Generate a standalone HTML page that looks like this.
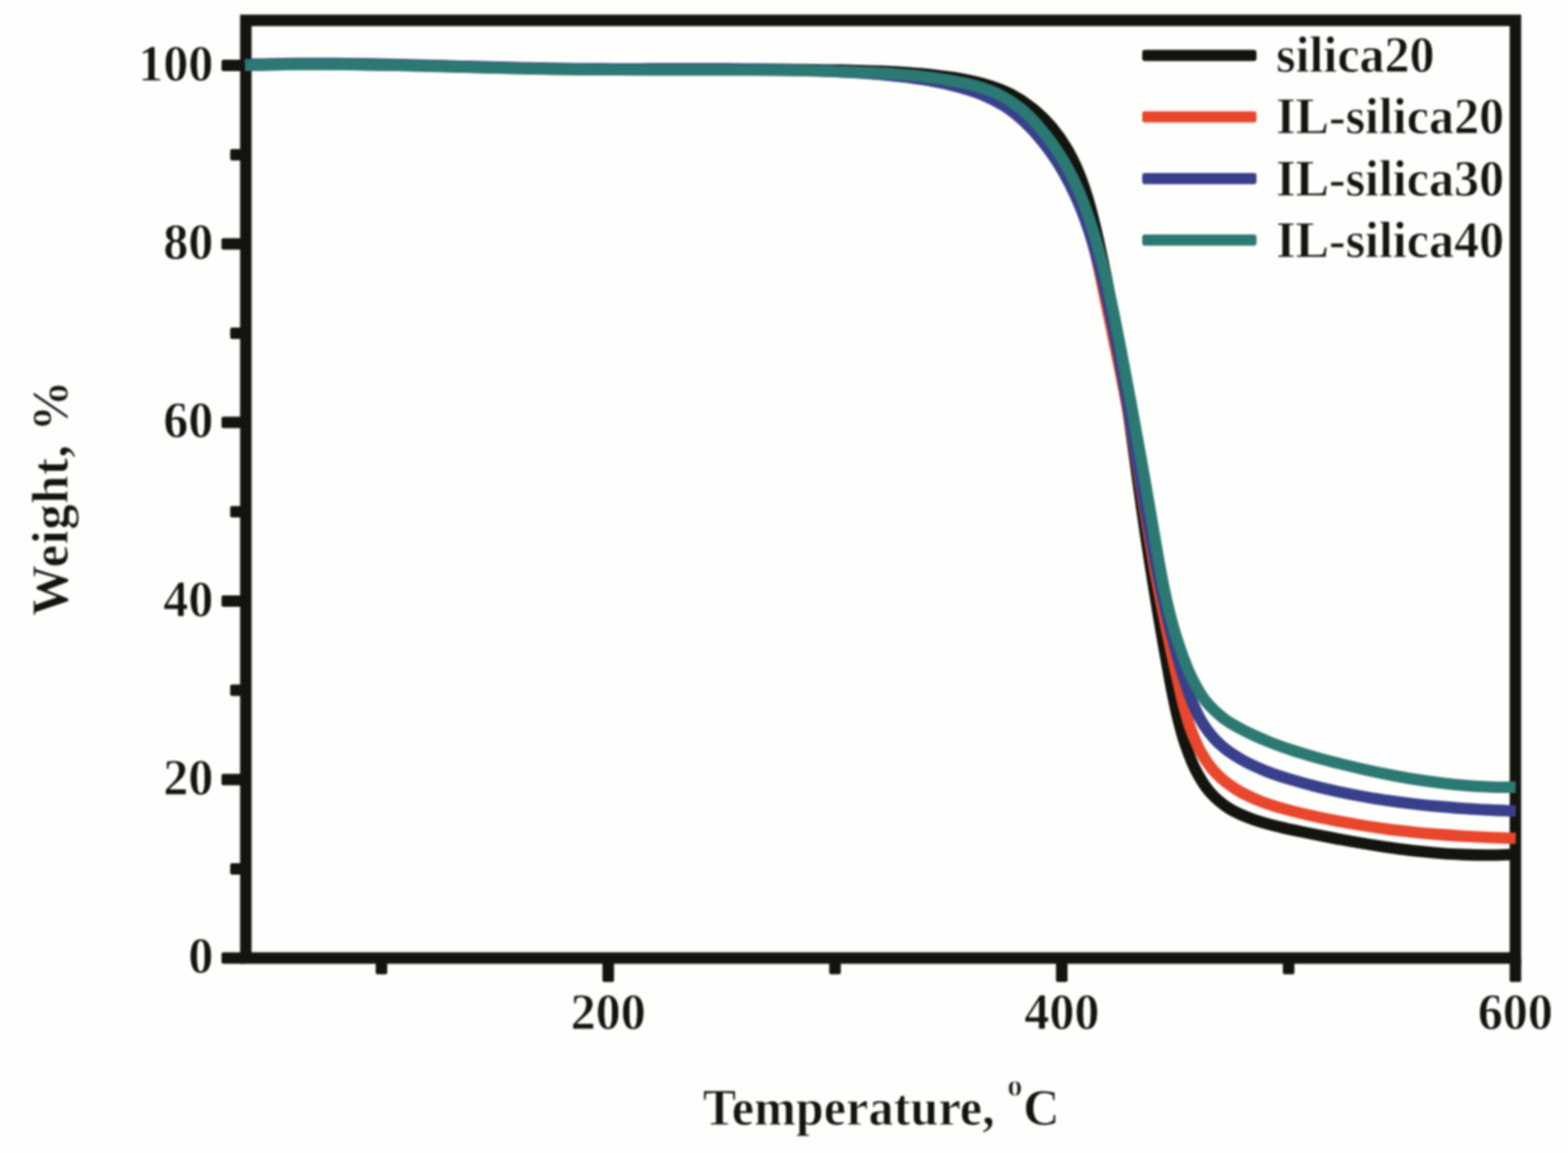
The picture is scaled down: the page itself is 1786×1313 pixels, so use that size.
<!DOCTYPE html>
<html lang="en"><head><meta charset="utf-8"><title>TGA curves</title>
<style>html,body{margin:0;padding:0;background:#fefefc;}body{width:1786px;height:1313px;overflow:hidden;}svg{display:block;filter:blur(1.15px);}text{font-family:"Liberation Serif","DejaVu Serif",serif;font-weight:bold;font-size:56px;fill:#13140e;stroke:#fefefc;stroke-width:0.8px;stroke-linejoin:round;}</style>
</head><body>
<svg width="1786" height="1313" viewBox="0 0 1786 1313">
<rect x="0" y="0" width="1786" height="1313" fill="#fefefc"/>
<g id="all">
<g fill="none" stroke="#13140e" stroke-width="13.1" stroke-linecap="butt">
<rect x="280.0" y="23.2" width="1446.1" height="1067.8" stroke-linejoin="miter"/>
<rect x="252.3" y="1084.5" width="27.7" height="13.0" rx="2" fill="#13140e" stroke="none"/>
<rect x="262.2" y="982.9" width="17.8" height="13.0" rx="2" fill="#13140e" stroke="none"/>
<rect x="252.3" y="881.2" width="27.7" height="13.0" rx="2" fill="#13140e" stroke="none"/>
<rect x="262.2" y="779.5" width="17.8" height="13.0" rx="2" fill="#13140e" stroke="none"/>
<rect x="252.3" y="677.9" width="27.7" height="13.0" rx="2" fill="#13140e" stroke="none"/>
<rect x="262.2" y="576.2" width="17.8" height="13.0" rx="2" fill="#13140e" stroke="none"/>
<rect x="252.3" y="474.6" width="27.7" height="13.0" rx="2" fill="#13140e" stroke="none"/>
<rect x="262.2" y="373.0" width="17.8" height="13.0" rx="2" fill="#13140e" stroke="none"/>
<rect x="252.3" y="271.3" width="27.7" height="13.0" rx="2" fill="#13140e" stroke="none"/>
<rect x="262.2" y="169.7" width="17.8" height="13.0" rx="2" fill="#13140e" stroke="none"/>
<rect x="252.3" y="68.0" width="27.7" height="13.0" rx="2" fill="#13140e" stroke="none"/>
<rect x="427.9" y="1091.0" width="13.2" height="18.5" rx="2" fill="#13140e" stroke="none"/>
<rect x="686.2" y="1091.0" width="13.2" height="27.3" rx="2" fill="#13140e" stroke="none"/>
<rect x="944.5" y="1091.0" width="13.2" height="18.5" rx="2" fill="#13140e" stroke="none"/>
<rect x="1202.8" y="1091.0" width="13.2" height="27.3" rx="2" fill="#13140e" stroke="none"/>
<rect x="1461.2" y="1091.0" width="13.2" height="18.5" rx="2" fill="#13140e" stroke="none"/>
<rect x="1719.5" y="1091.0" width="13.2" height="27.3" rx="2" fill="#13140e" stroke="none"/>
</g>
<g fill="none" stroke-width="13.1" stroke-linecap="butt" stroke-linejoin="round">
<path d="M279.0 74.3C289.1 74.1 299.1 73.8 309.2 73.6C319.3 73.4 329.3 73.3 339.4 73.2C349.5 73.1 359.5 73.1 369.6 73.2C379.7 73.2 389.7 73.3 399.8 73.4C409.8 73.5 419.9 73.6 430.0 73.8C440.0 73.9 450.1 74.1 460.1 74.3C470.2 74.5 480.3 74.8 490.3 75.0C500.4 75.3 510.4 75.5 520.5 75.8C530.6 76.0 540.6 76.3 550.7 76.6C560.7 76.8 570.8 77.1 580.9 77.3C590.9 77.5 601.0 77.8 611.1 78.0C621.1 78.2 631.2 78.3 641.2 78.5C651.3 78.6 661.4 78.8 671.4 78.9C681.5 78.9 691.6 79.0 701.6 79.1C711.7 79.1 721.8 79.1 731.8 79.1C741.9 79.2 752.0 79.2 762.1 79.1C772.1 79.1 782.2 79.1 792.3 79.1C802.3 79.1 812.4 79.1 822.5 79.1C832.5 79.1 842.6 79.1 852.7 79.1C862.7 79.1 872.8 79.1 882.8 79.1C892.9 79.2 903.0 79.2 913.0 79.3C923.1 79.4 933.1 79.5 943.2 79.7C953.3 79.8 963.3 80.0 973.4 80.2C983.4 80.5 993.5 80.7 1003.5 81.1C1013.6 81.5 1023.6 82.0 1033.7 82.7C1043.7 83.4 1053.8 84.2 1063.8 85.4C1073.9 86.6 1084.0 87.8 1094.0 89.7C1104.0 91.5 1114.0 93.5 1123.6 96.5C1133.2 99.4 1142.7 102.8 1151.5 107.4C1160.3 111.9 1168.8 117.4 1176.5 123.7C1184.3 129.9 1191.5 137.2 1198.0 144.8C1204.5 152.5 1210.2 160.8 1215.3 169.4C1220.4 178.0 1224.7 187.1 1228.6 196.3C1232.4 205.5 1235.6 215.1 1238.6 224.7C1241.6 234.3 1244.1 244.2 1246.5 254.0C1249.0 263.9 1251.1 273.8 1253.3 283.7C1255.5 293.6 1257.5 303.5 1259.5 313.4C1261.5 323.3 1263.4 333.2 1265.2 343.1C1267.0 353.0 1268.7 362.9 1270.4 372.8C1272.1 382.7 1273.7 392.6 1275.3 402.6C1276.8 412.5 1278.4 422.4 1279.8 432.3C1281.3 442.3 1282.8 452.2 1284.2 462.1C1285.6 472.1 1287.0 482.0 1288.4 492.0C1289.8 501.9 1291.2 511.9 1292.6 521.8C1293.9 531.8 1295.3 541.7 1296.7 551.7C1298.1 561.6 1299.5 571.6 1300.9 581.6C1302.4 591.5 1303.8 601.5 1305.3 611.5C1306.8 621.4 1308.4 631.4 1309.9 641.4C1311.5 651.3 1313.1 661.3 1314.7 671.3C1316.3 681.2 1318.0 691.2 1319.6 701.1C1321.3 711.0 1323.0 720.9 1324.7 730.8C1326.5 740.7 1328.2 750.6 1330.0 760.4C1331.7 770.3 1333.5 780.1 1335.5 789.9C1337.5 799.7 1339.5 809.6 1342.0 819.3C1344.5 829.2 1347.1 839.1 1350.4 848.7C1353.8 858.4 1357.3 868.2 1362.0 877.1C1366.6 885.9 1371.7 894.6 1378.1 902.0C1384.5 909.2 1392.1 915.7 1400.3 920.9C1408.7 926.2 1418.5 929.9 1427.9 933.4C1437.5 936.8 1447.4 939.3 1457.3 941.7C1467.1 944.2 1477.1 946.1 1487.0 948.1C1496.9 950.1 1506.8 952.1 1516.7 954.0C1526.6 955.9 1536.4 957.7 1546.3 959.4C1556.2 961.1 1566.1 962.7 1576.0 964.2C1585.9 965.6 1595.8 967.0 1605.8 968.2C1615.7 969.3 1625.7 970.4 1635.7 971.2C1645.7 972.0 1655.7 972.7 1665.7 973.1C1675.8 973.5 1685.9 973.7 1696.0 973.7C1706.1 973.7 1716.3 973.2 1726.5 972.9" stroke="#13140e"/>
<path d="M279.0 74.0C288.9 73.8 298.7 73.5 308.6 73.3C318.5 73.1 328.3 73.0 338.2 73.0C348.0 72.9 357.9 72.9 367.8 73.0C377.6 73.0 387.5 73.1 397.4 73.2C407.2 73.3 417.1 73.5 426.9 73.7C436.8 73.9 446.7 74.1 456.5 74.3C466.4 74.5 476.2 74.8 486.1 75.0C496.0 75.3 505.8 75.6 515.7 75.8C525.6 76.1 535.4 76.4 545.3 76.7C555.1 76.9 565.0 77.2 574.9 77.4C584.7 77.7 594.6 77.9 604.4 78.1C614.3 78.3 624.2 78.5 634.0 78.7C643.9 78.8 653.8 79.0 663.6 79.0C673.5 79.1 683.3 79.2 693.2 79.2C703.1 79.3 712.9 79.3 722.8 79.3C732.7 79.3 742.5 79.3 752.4 79.2C762.3 79.2 772.1 79.2 782.0 79.2C791.8 79.2 801.7 79.2 811.6 79.2C821.4 79.2 831.3 79.2 841.2 79.3C851.0 79.4 860.9 79.4 870.8 79.5C880.6 79.7 890.5 79.8 900.3 80.0C910.2 80.2 920.1 80.4 929.9 80.7C939.8 81.0 949.6 81.4 959.5 81.8C969.4 82.2 979.2 82.6 989.1 83.2C998.9 83.8 1008.8 84.5 1018.6 85.4C1028.4 86.4 1038.2 87.5 1048.0 88.9C1057.7 90.3 1067.5 92.0 1077.1 94.1C1086.8 96.2 1096.5 98.5 1105.9 101.6C1115.2 104.7 1124.6 108.1 1133.3 112.5C1141.9 116.9 1150.3 122.1 1158.0 128.0C1165.8 134.0 1172.9 141.0 1179.6 148.2C1186.3 155.4 1192.4 163.3 1198.2 171.4C1203.9 179.4 1209.2 187.9 1214.0 196.5C1218.7 205.1 1223.0 214.0 1226.8 223.0C1230.7 232.0 1234.1 241.3 1237.2 250.6C1240.3 259.9 1242.9 269.4 1245.4 278.9C1247.9 288.4 1250.0 298.1 1252.2 307.7C1254.3 317.4 1256.2 327.1 1258.2 336.7C1260.3 346.4 1262.3 356.1 1264.3 365.7C1266.3 375.3 1268.3 385.0 1270.3 394.6C1272.3 404.2 1274.3 413.8 1276.2 423.5C1278.1 433.1 1280.1 442.8 1281.9 452.5C1283.7 462.1 1285.5 471.8 1287.3 481.6C1289.0 491.3 1290.7 501.0 1292.4 510.8C1294.0 520.6 1295.6 530.3 1297.2 540.1C1298.8 549.9 1300.4 559.7 1302.0 569.5C1303.6 579.2 1305.2 589.0 1306.8 598.7C1308.4 608.5 1310.1 618.2 1311.8 627.9C1313.4 637.6 1315.2 647.3 1316.9 656.9C1318.7 666.6 1320.6 676.1 1322.5 685.7C1324.4 695.3 1326.3 704.9 1328.3 714.4C1330.3 724.0 1332.4 733.6 1334.5 743.2C1336.6 752.9 1338.7 762.7 1341.0 772.4C1343.2 782.2 1345.3 792.2 1347.8 801.9C1350.4 811.6 1353.0 821.4 1356.4 830.7C1359.8 839.8 1363.5 848.9 1368.3 857.3C1373.0 865.5 1378.4 873.5 1384.9 880.3C1391.5 887.3 1399.4 893.4 1407.6 898.6C1416.0 903.9 1425.3 908.2 1434.6 912.0C1443.8 915.7 1453.4 918.6 1463.0 921.3C1472.5 924.1 1482.2 926.2 1491.9 928.4C1501.5 930.6 1511.2 932.6 1520.9 934.5C1530.6 936.3 1540.2 938.0 1549.9 939.6C1559.6 941.2 1569.3 942.6 1579.0 943.9C1588.7 945.2 1598.5 946.3 1608.2 947.4C1618.0 948.4 1627.8 949.3 1637.6 950.1C1647.4 950.9 1657.2 951.6 1667.0 952.2C1676.9 952.8 1686.8 953.3 1696.7 953.7C1706.6 954.1 1716.6 954.4 1726.5 954.7" stroke="#e8472d"/>
<path d="M279.0 73.4C288.7 73.2 298.4 72.8 308.1 72.7C317.7 72.5 327.4 72.4 337.1 72.3C346.8 72.2 356.5 72.2 366.2 72.2C375.9 72.3 385.5 72.4 395.2 72.5C404.9 72.6 414.6 72.7 424.3 72.9C433.9 73.1 443.6 73.3 453.3 73.5C463.0 73.7 472.7 74.0 482.3 74.2C492.0 74.5 501.7 74.8 511.4 75.0C521.1 75.3 530.7 75.6 540.4 75.8C550.1 76.1 559.8 76.4 569.5 76.6C579.1 76.9 588.8 77.1 598.5 77.3C608.2 77.5 617.9 77.7 627.6 77.9C637.2 78.0 646.9 78.2 656.6 78.3C666.3 78.4 676.0 78.4 685.7 78.4C695.4 78.5 705.0 78.5 714.7 78.5C724.4 78.5 734.1 78.4 743.8 78.4C753.5 78.4 763.2 78.4 772.9 78.4C782.5 78.3 792.2 78.3 801.9 78.3C811.6 78.3 821.3 78.4 831.0 78.4C840.7 78.5 850.3 78.6 860.0 78.7C869.7 78.8 879.4 79.0 889.1 79.2C898.7 79.4 908.4 79.6 918.1 80.0C927.8 80.3 937.4 80.7 947.1 81.1C956.8 81.6 966.4 82.1 976.1 82.7C985.8 83.4 995.4 84.0 1005.1 84.9C1014.7 85.8 1024.4 86.8 1034.0 88.1C1043.6 89.4 1053.2 90.8 1062.7 92.6C1072.3 94.4 1081.9 96.4 1091.3 98.9C1100.7 101.5 1110.1 104.2 1119.0 107.9C1127.9 111.6 1136.5 116.0 1144.5 121.1C1152.5 126.3 1160.0 132.5 1167.1 139.0C1174.2 145.6 1180.9 153.0 1187.0 160.5C1193.2 168.0 1198.8 176.0 1204.1 184.1C1209.3 192.2 1214.0 200.6 1218.4 209.2C1222.7 217.7 1226.7 226.5 1230.3 235.4C1234.0 244.2 1237.2 253.3 1240.3 262.5C1243.3 271.6 1246.1 280.9 1248.7 290.3C1251.3 299.6 1253.7 309.0 1256.0 318.5C1258.3 327.9 1260.4 337.4 1262.5 346.9C1264.6 356.4 1266.6 365.9 1268.5 375.4C1270.5 384.9 1272.3 394.4 1274.2 404.0C1276.0 413.5 1277.8 423.0 1279.5 432.5C1281.2 442.1 1282.9 451.6 1284.6 461.2C1286.3 470.7 1287.9 480.2 1289.5 489.8C1291.2 499.3 1292.8 508.8 1294.4 518.4C1296.0 527.9 1297.6 537.5 1299.3 547.0C1300.9 556.5 1302.5 566.0 1304.2 575.6C1305.9 585.1 1307.6 594.6 1309.4 604.1C1311.1 613.6 1312.9 623.1 1314.7 632.6C1316.6 642.1 1318.5 651.6 1320.4 661.0C1322.4 670.5 1324.4 680.0 1326.6 689.4C1328.7 698.8 1330.9 708.3 1333.3 717.7C1335.6 727.1 1338.1 736.5 1340.7 745.8C1343.3 755.2 1346.0 764.6 1349.0 773.9C1352.0 783.1 1354.9 792.5 1358.8 801.4C1362.6 810.3 1366.7 819.1 1372.1 827.0C1377.4 834.9 1383.6 842.4 1390.7 848.7C1397.7 855.1 1406.1 860.4 1414.4 865.2C1422.7 870.1 1431.7 873.9 1440.7 877.6C1449.7 881.3 1459.0 884.3 1468.2 887.1C1477.5 890.0 1486.9 892.5 1496.4 894.9C1505.8 897.4 1515.2 899.5 1524.7 901.6C1534.1 903.6 1543.6 905.4 1553.2 907.1C1562.7 908.8 1572.2 910.4 1581.8 911.7C1591.4 913.1 1601.0 914.4 1610.6 915.5C1620.2 916.6 1629.8 917.6 1639.4 918.4C1649.1 919.3 1658.7 920.0 1668.4 920.7C1678.1 921.4 1687.7 921.9 1697.4 922.4C1707.1 922.9 1716.8 923.2 1726.5 923.6" stroke="#38408c"/>
<path d="M279.0 74.3C288.6 74.1 298.2 73.8 307.7 73.7C317.3 73.5 326.9 73.4 336.5 73.4C346.1 73.3 355.7 73.3 365.2 73.3C374.8 73.4 384.4 73.4 394.0 73.5C403.5 73.6 413.1 73.8 422.7 73.9C432.3 74.1 441.9 74.3 451.4 74.5C461.0 74.7 470.6 74.9 480.2 75.2C489.7 75.4 499.3 75.6 508.9 75.9C518.5 76.1 528.1 76.4 537.6 76.7C547.2 76.9 556.8 77.2 566.4 77.4C575.9 77.6 585.5 77.9 595.1 78.1C604.7 78.3 614.3 78.5 623.8 78.7C633.4 78.9 643.0 79.0 652.6 79.1C662.2 79.2 671.7 79.3 681.3 79.4C690.9 79.5 700.5 79.5 710.1 79.5C719.6 79.6 729.2 79.6 738.8 79.6C748.4 79.6 758.0 79.6 767.6 79.6C777.1 79.6 786.7 79.6 796.3 79.6C805.9 79.6 815.5 79.6 825.1 79.6C834.6 79.6 844.2 79.6 853.8 79.7C863.4 79.8 873.0 79.8 882.5 79.9C892.1 80.0 901.7 80.1 911.3 80.3C920.8 80.5 930.4 80.6 940.0 80.9C949.6 81.1 959.1 81.4 968.7 81.7C978.3 82.0 987.9 82.4 997.4 82.9C1007.0 83.4 1016.6 83.9 1026.1 84.7C1035.7 85.5 1045.2 86.4 1054.8 87.5C1064.3 88.7 1073.9 90.0 1083.4 91.7C1092.9 93.4 1102.5 95.2 1111.7 97.9C1120.8 100.6 1129.9 103.6 1138.3 107.8C1146.7 112.0 1154.7 117.2 1162.1 123.0C1169.5 129.0 1176.3 136.0 1182.6 143.2C1189.0 150.3 1195.0 158.0 1200.5 165.9C1205.9 173.7 1211.0 181.9 1215.6 190.2C1220.2 198.6 1224.3 207.2 1228.1 215.9C1231.9 224.6 1235.3 233.6 1238.5 242.6C1241.7 251.6 1244.5 260.7 1247.3 269.9C1250.0 279.1 1252.5 288.3 1255.0 297.6C1257.4 306.9 1259.6 316.2 1261.7 325.6C1263.9 334.9 1265.9 344.3 1267.9 353.7C1269.8 363.1 1271.7 372.5 1273.5 381.9C1275.4 391.3 1277.2 400.8 1279.0 410.2C1280.8 419.6 1282.5 429.0 1284.3 438.4C1286.1 447.8 1287.8 457.2 1289.6 466.6C1291.3 476.0 1293.0 485.4 1294.7 494.8C1296.4 504.2 1298.1 513.6 1299.8 523.0C1301.5 532.4 1303.2 541.8 1304.8 551.2C1306.5 560.7 1308.1 570.1 1309.7 579.6C1311.4 589.0 1313.0 598.5 1314.6 608.0C1316.2 617.5 1317.8 627.0 1319.5 636.4C1321.2 645.9 1322.9 655.4 1324.8 664.8C1326.7 674.2 1328.7 683.7 1331.0 693.0C1333.3 702.3 1335.7 711.6 1338.4 720.7C1341.2 729.9 1344.2 739.0 1347.6 748.0C1350.9 756.9 1354.4 766.0 1358.8 774.5C1363.1 782.9 1367.7 791.4 1373.6 798.7C1379.4 806.0 1386.4 812.5 1393.9 818.2C1401.5 824.0 1410.4 828.5 1418.9 832.9C1427.5 837.3 1436.4 841.1 1445.3 844.7C1454.2 848.3 1463.3 851.5 1472.4 854.5C1481.4 857.5 1490.6 860.1 1499.8 862.7C1509.0 865.3 1518.3 867.7 1527.6 870.0C1536.9 872.3 1546.2 874.5 1555.5 876.6C1564.9 878.7 1574.3 880.7 1583.7 882.5C1593.1 884.3 1602.5 886.0 1612.0 887.5C1621.4 889.0 1630.9 890.4 1640.4 891.6C1649.9 892.7 1659.4 893.7 1669.0 894.5C1678.5 895.3 1688.1 895.8 1697.7 896.2C1707.3 896.5 1716.9 896.4 1726.5 896.5" stroke="#2b7972"/>
</g>
<g stroke="none">
<rect x="1301" y="56.7" width="130.2" height="12.8" rx="3" fill="#13140e"/>
<rect x="1301" y="126.8" width="130.2" height="12.8" rx="3" fill="#e8472d"/>
<rect x="1301" y="196.9" width="130.2" height="12.8" rx="3" fill="#38408c"/>
<rect x="1301" y="267.0" width="130.2" height="12.8" rx="3" fill="#2b7972"/>
</g>
<text transform="translate(1453.5 82.0) scale(1 1.05)" style="font-size:57px">silica20</text>
<text transform="translate(1453.5 152.3) scale(1 1.05)" style="font-size:57px">IL-silica20</text>
<text transform="translate(1453.5 222.6) scale(1 1.05)" style="font-size:57px">IL-silica30</text>
<text transform="translate(1453.5 292.9) scale(1 1.05)" style="font-size:57px">IL-silica40</text>
<text transform="translate(243 1108.3) scale(1 1.05)" text-anchor="end" style="font-size:57px">0</text>
<text transform="translate(243 905.0) scale(1 1.05)" text-anchor="end" style="font-size:57px">20</text>
<text transform="translate(243 701.7) scale(1 1.05)" text-anchor="end" style="font-size:57px">40</text>
<text transform="translate(243 498.4) scale(1 1.05)" text-anchor="end" style="font-size:57px">60</text>
<text transform="translate(243 295.1) scale(1 1.05)" text-anchor="end" style="font-size:57px">80</text>
<text transform="translate(243 91.8) scale(1 1.05)" text-anchor="end" style="font-size:57px">100</text>
<text transform="translate(692.8 1172) scale(1 1.05)" text-anchor="middle" style="font-size:57px">200</text>
<text transform="translate(1209.4 1172) scale(1 1.05)" text-anchor="middle" style="font-size:57px">400</text>
<text transform="translate(1726.1 1172) scale(1 1.05)" text-anchor="middle" style="font-size:57px">600</text>
<text transform="translate(800.5 1280.7) scale(1 1.05)" style="font-size:57px;letter-spacing:0.15px">Temperature, <tspan style="font-size:34px" dy="-31">o</tspan><tspan dy="31" dx="0.8">C</tspan></text>
<text transform="translate(76.8 701.5) rotate(-90) scale(1 1.025)" style="font-size:58px;letter-spacing:0.5px">Weight, %</text>
</g>
</svg>
</body></html>
